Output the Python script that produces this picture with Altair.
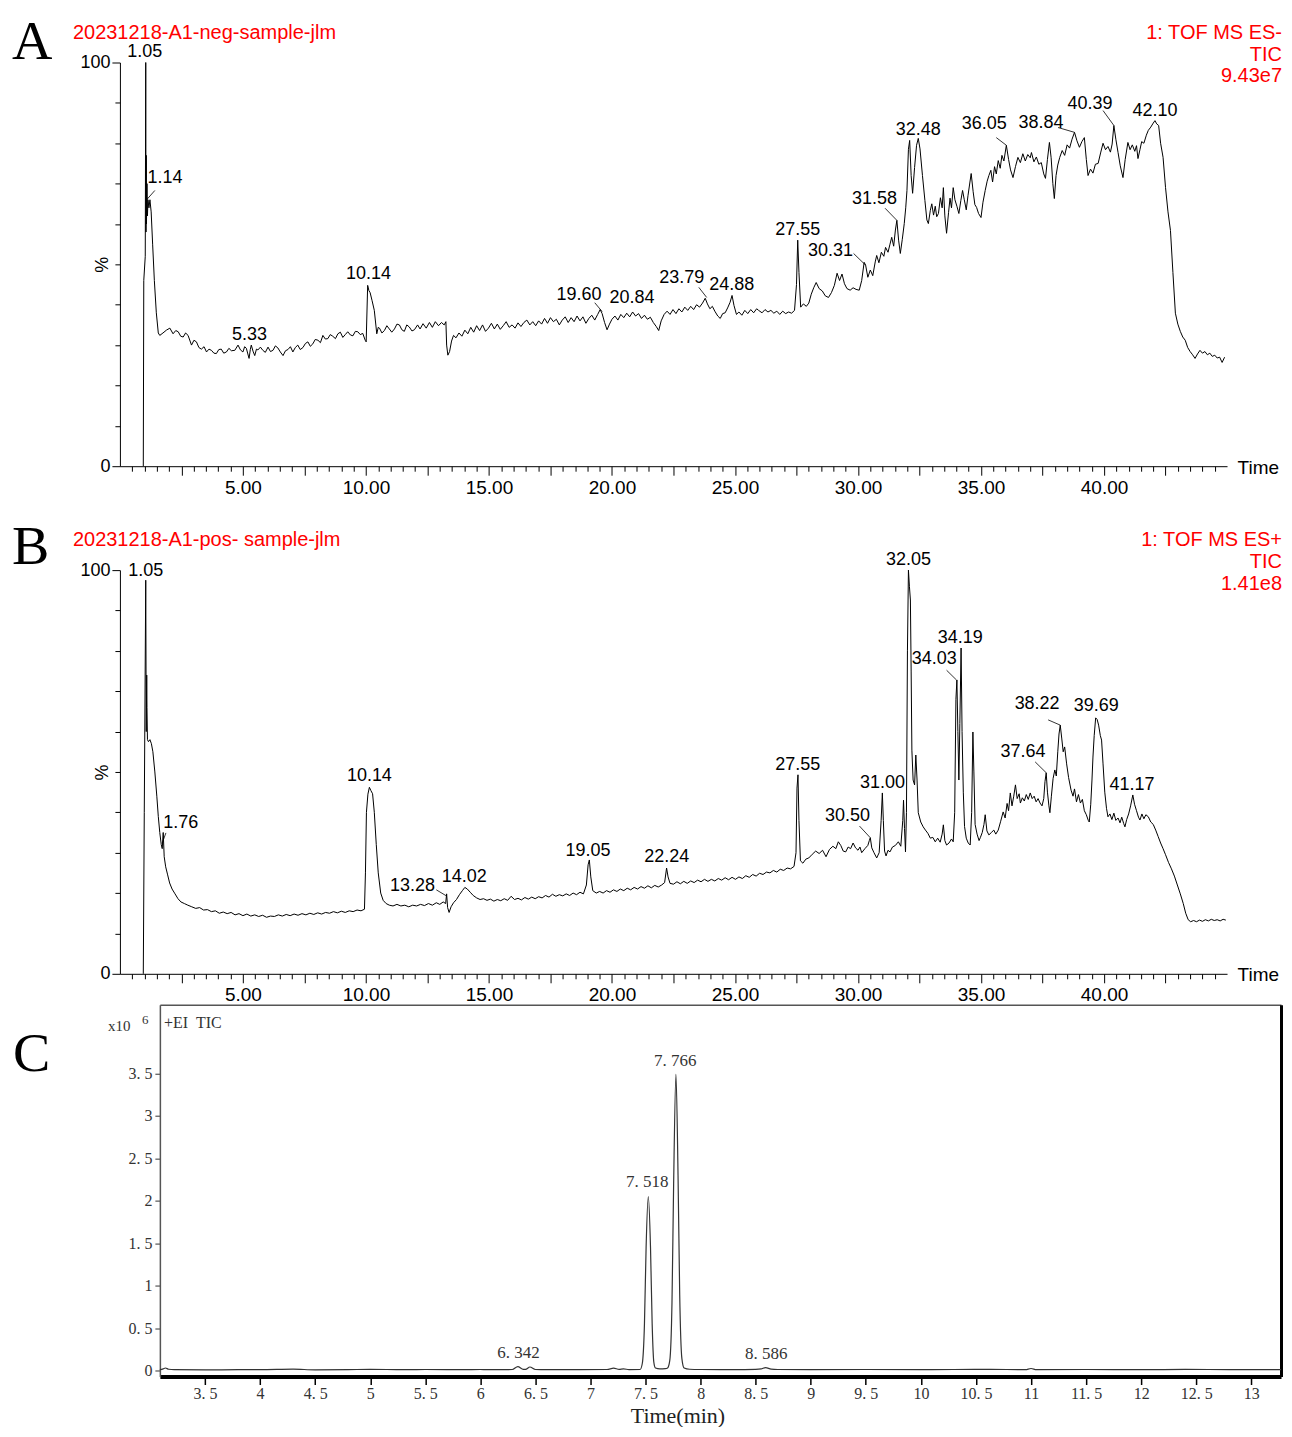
import altair as alt
import pandas as pd

SANS = "Liberation Sans"
SERIF = "Liberation Serif"

# ---------------- Panel A (negative mode TIC) ----------------
a_time = [
    0.95, 0.97, 1.03, 1.05, 1.06, 1.07, 1.08, 1.10, 1.12, 1.14,
    1.18, 1.22, 1.27, 1.33, 1.40, 1.48, 1.56, 1.62, 1.75, 1.89,
    2.03, 2.16, 2.27, 2.37, 2.47, 2.57, 2.67, 2.77, 2.91, 3.01,
    3.11, 3.21, 3.31, 3.42, 3.52, 3.62, 3.72, 3.82, 3.92, 4.02,
    4.12, 4.22, 4.33, 4.43, 4.53, 4.67, 4.80, 4.90, 5.00, 5.07,
    5.14, 5.20, 5.25, 5.30, 5.34, 5.41, 5.48, 5.55, 5.61, 5.71,
    5.81, 5.91, 6.02, 6.12, 6.22, 6.32, 6.42, 6.52, 6.63, 6.73,
    6.83, 6.93, 7.03, 7.13, 7.23, 7.33, 7.44, 7.54, 7.64, 7.74,
    7.84, 7.94, 8.05, 8.15, 8.25, 8.35, 8.45, 8.55, 8.65, 8.76,
    8.86, 8.96, 9.06, 9.16, 9.26, 9.37, 9.47, 9.57, 9.67, 9.77,
    9.87, 9.97, 10.01, 10.07, 10.12, 10.17, 10.25, 10.34, 10.44, 10.50,
    10.55, 10.65, 10.75, 10.85, 10.95, 11.05, 11.16, 11.26, 11.36, 11.46,
    11.56, 11.66, 11.76, 11.87, 11.97, 12.10, 12.20, 12.32, 12.45, 12.58,
    12.70, 12.82, 12.95, 13.07, 13.18, 13.25, 13.28, 13.33, 13.40, 13.48,
    13.56, 13.66, 13.78, 13.90, 14.02, 14.14, 14.26, 14.38, 14.50, 14.62,
    14.74, 14.86, 14.98, 15.10, 15.22, 15.34, 15.46, 15.58, 15.70, 15.82,
    15.94, 16.06, 16.18, 16.30, 16.42, 16.54, 16.66, 16.78, 16.90, 17.02,
    17.14, 17.26, 17.38, 17.50, 17.62, 17.74, 17.86, 17.98, 18.10, 18.22,
    18.34, 18.46, 18.58, 18.70, 18.82, 18.94, 19.06, 19.18, 19.30, 19.42,
    19.52, 19.60, 19.70, 19.80, 19.90, 20.00, 20.12, 20.24, 20.36, 20.48,
    20.60, 20.72, 20.84, 20.96, 21.08, 21.20, 21.32, 21.44, 21.56, 21.68,
    21.80, 21.90, 22.00, 22.12, 22.24, 22.36, 22.48, 22.60, 22.72, 22.84,
    22.96, 23.08, 23.20, 23.32, 23.44, 23.56, 23.68, 23.79, 23.88, 23.98,
    24.08, 24.18, 24.30, 24.40, 24.50, 24.60, 24.70, 24.80, 24.88, 24.96,
    25.06, 25.16, 25.28, 25.40, 25.52, 25.64, 25.76, 25.88, 25.96, 26.10,
    26.22, 26.34, 26.46, 26.58, 26.70, 26.82, 26.94, 27.06, 27.18, 27.30,
    27.42, 27.50, 27.55, 27.60, 27.67, 27.78, 27.90, 28.00, 28.10, 28.20,
    28.30, 28.42, 28.55, 28.67, 28.80, 28.92, 29.04, 29.15, 29.25, 29.35,
    29.45, 29.55, 29.68, 29.80, 29.92, 30.05, 30.15, 30.25, 30.31, 30.40,
    30.50, 30.60, 30.70, 30.76, 30.85, 30.95, 31.05, 31.12, 31.22, 31.30,
    31.37, 31.45, 31.52, 31.58, 31.65, 31.72, 31.80, 31.88, 31.94, 31.99,
    32.05, 32.10, 32.16, 32.22, 32.30, 32.38, 32.45, 32.52, 32.62, 32.72,
    32.80, 32.86, 32.94, 33.00, 33.07, 33.14, 33.20, 33.27, 33.35, 33.42,
    33.47, 33.53, 33.60, 33.68, 33.74, 33.80, 33.87, 33.94, 34.02, 34.10,
    34.18, 34.25, 34.32, 34.40, 34.47, 34.55, 34.60, 34.68, 34.75, 34.82,
    34.90, 35.00, 35.08, 35.17, 35.25, 35.32, 35.40, 35.47, 35.55, 35.62,
    35.70, 35.78, 35.85, 35.93, 36.03, 36.12, 36.20, 36.30, 36.40, 36.50,
    36.60, 36.70, 36.80, 36.90, 37.00, 37.05, 37.15, 37.25, 37.35, 37.45,
    37.55, 37.62, 37.70, 37.78, 37.85, 37.92, 37.98, 38.05, 38.12, 38.20,
    38.30, 38.40, 38.50, 38.60, 38.70, 38.80, 38.90, 39.00, 39.10, 39.20,
    39.28, 39.35, 39.45, 39.55, 39.65, 39.76, 39.86, 39.96, 40.06, 40.16,
    40.26, 40.33, 40.40, 40.48, 40.57, 40.66, 40.77, 40.86, 40.97, 41.06,
    41.15, 41.25, 41.32, 41.38, 41.46, 41.53, 41.62, 41.72, 41.80, 41.90,
    42.00, 42.07, 42.14, 42.22, 42.30, 42.40, 42.50, 42.60, 42.70, 42.80,
    42.90, 43.00, 43.10, 43.20, 43.30, 43.40, 43.50, 43.60, 43.70, 43.80,
    43.90, 44.00, 44.10, 44.20, 44.30, 44.40, 44.50, 44.60, 44.70, 44.80,
    44.90,
]
a_pct = [
    0, 46, 52, 100, 58, 77, 60, 70, 62, 66,
    64, 66, 63, 55, 46, 38, 33, 32.4, 33.0, 33.7,
    34.2, 32.8, 33.6, 33.3, 32.2, 32.0, 33.0, 32.4, 30.0, 31.2,
    30.8, 29.4, 29.0, 29.6, 28.3, 29.0, 28.7, 28.0, 27.9, 28.9,
    29.0, 28.0, 28.3, 29.2, 28.6, 28.7, 30.0, 28.8, 28.3, 29.6,
    29.2, 27.8, 26.7, 28.9, 30.0, 28.5, 27.4, 29.0, 28.8, 29.5,
    28.7, 28.2, 29.5, 28.4, 28.7, 29.8, 29.3, 28.3, 27.4, 28.6,
    28.9, 29.6, 28.3, 29.4, 30.0, 28.9, 29.4, 30.4, 30.8, 29.7,
    30.3, 31.4, 31.2, 30.6, 32.4, 31.5, 31.6, 32.6, 32.2, 31.6,
    32.8, 33.2, 31.9, 32.6, 33.3, 32.5, 32.3, 33.4, 33.3, 32.6,
    32.9, 31.2, 30.8, 44.8, 43.5, 43.0, 41.0, 38.6, 32.8, 34.4,
    34.2, 33.0, 33.6, 34.8, 34.0, 33.2, 34.0, 35.2, 35.0, 33.8,
    33.4, 35.0, 34.5, 33.5, 33.8, 35.0, 34.0, 35.3, 34.2, 35.6,
    34.4, 35.8, 34.8, 35.6, 35.0, 35.8, 30.0, 27.5, 28.4, 31.0,
    32.4, 31.8, 33.0, 32.2, 33.7, 32.8, 34.4, 33.2, 34.8, 33.6,
    35.0, 33.4, 34.2, 35.4, 34.0, 35.2, 33.9, 34.8, 35.8, 34.4,
    35.0, 34.2, 35.5, 34.6, 35.6, 36.2, 35.0, 35.8, 34.8, 36.0,
    35.2, 36.6, 35.4, 36.8, 35.8, 36.4, 35.0, 36.2, 37.0, 35.6,
    36.8, 35.8, 37.2, 36.0, 37.0, 35.4, 36.6, 37.4, 36.2, 37.6,
    38.8, 37.8, 35.6, 33.8, 35.2, 36.4, 37.2, 36.2, 37.6, 36.8,
    37.9, 37.0, 38.2, 37.2, 37.8, 36.6, 37.4, 36.4, 36.9, 35.6,
    34.6, 33.6, 36.0, 37.6, 38.4, 37.6, 38.8, 37.8, 39.0, 38.2,
    39.4, 38.6, 39.6, 38.8, 40.0, 39.4, 40.4, 41.6, 40.2, 39.0,
    39.6, 38.4, 37.2, 36.6, 37.8, 38.0, 39.2, 40.6, 42.3, 39.8,
    37.6, 38.2, 37.4, 38.6, 37.8, 38.8, 38.0, 39.0, 38.6, 38.0,
    38.8, 38.2, 38.6, 37.9, 38.4, 37.6, 38.4, 37.8, 38.2, 37.9,
    38.6, 45.0, 56.0, 48.0, 39.4, 40.2, 39.6, 40.4, 42.6, 44.2,
    45.5, 44.0, 43.4, 42.2, 41.8, 43.0, 44.8, 47.8, 46.0, 47.6,
    45.2, 44.0, 43.6, 44.2, 43.8, 43.6, 46.0, 50.5, 49.8, 46.8,
    48.6, 47.2, 50.6, 52.2, 50.4, 53.0, 52.0, 54.2, 53.0, 55.0,
    56.7, 54.5, 58.5, 60.9, 56.0, 52.7, 56.2, 60.1, 64.0, 68.3,
    78.5, 80.7, 72.0, 67.6, 74.0, 79.5, 81.2, 78.6, 72.0, 65.8,
    61.0, 60.1, 63.4, 65.0, 62.2, 64.4, 61.8, 62.6, 66.5, 64.0,
    69.0, 62.0, 57.7, 62.8, 66.4, 64.0, 69.0, 66.0, 64.4, 62.6,
    65.8, 68.3, 66.0, 63.5, 67.0, 70.4, 72.5, 68.0, 64.8, 64.1,
    62.6, 61.6, 65.4, 68.3, 70.6, 72.0, 73.3, 70.4, 74.2, 72.4,
    75.7, 73.8, 77.0, 75.6, 79.5, 76.0, 73.4, 71.5, 74.2, 76.5,
    75.2, 77.4, 75.6, 77.2, 76.4, 77.7, 75.4, 76.6, 74.8, 75.2,
    72.4, 71.3, 76.0, 80.2, 76.4, 70.0, 66.3, 72.0, 74.6, 76.5,
    78.2, 77.0, 79.6, 78.8, 81.0, 82.7, 80.6, 79.0, 80.4, 81.4,
    76.0, 72.0, 73.6, 72.6, 74.8, 75.0, 77.6, 80.0, 78.4, 79.2,
    77.8, 79.8, 84.4, 81.0, 77.7, 74.4, 71.5, 76.0, 80.2, 78.4,
    79.6, 78.0, 79.4, 76.2, 78.4, 80.4, 80.0, 82.0, 83.2, 84.0,
    85.0, 85.6, 84.8, 84.4, 80.0, 76.5, 69.0, 63.0, 58.4, 48.0,
    37.9, 35.2, 33.4, 32.0, 31.2, 29.4, 28.4, 27.6, 26.7, 27.8,
    28.7, 28.0, 28.4, 27.6, 28.0, 27.2, 27.5, 26.8, 27.0, 25.7,
    27.0,
]
a_lab_s = ["1.05", "1.14", "5.33", "10.14", "19.60", "20.84", "23.79", "24.88",
           "27.55", "30.31", "31.58", "32.48", "36.05", "38.84", "40.39", "42.10"]
a_lab_t = [1.01, 1.83, 5.27, 10.10, 18.66, 20.81, 22.84, 24.87,
           27.55, 28.88, 30.67, 32.45, 35.13, 37.44, 39.43, 42.07]
a_lab_v = [102.5, 71.3, 32.4, 47.5, 42.3, 41.6, 46.5, 45.0,
           58.4, 53.2, 66.3, 83.4, 84.7, 85.1, 89.6, 88.1]
a_ld_t1 = [1.42, 19.30, 23.53, 29.82, 31.10, 35.62, 38.13, 39.96]
a_ld_v1 = [68.3, 40.5, 44.3, 52.7, 63.9, 81.4, 83.9, 88.1]
a_ld_t2 = [1.10, 19.60, 23.85, 30.31, 31.58, 36.03, 38.80, 40.40]
a_ld_v2 = [66.1, 38.3, 41.8, 49.8, 60.9, 79.5, 82.7, 84.4]

# ---------------- Panel B (positive mode TIC) ----------------
b_time = [
    0.95, 0.99, 1.05, 1.07, 1.09, 1.10, 1.12, 1.16, 1.22, 1.28,
    1.34, 1.42, 1.50, 1.56, 1.62, 1.68, 1.72, 1.76, 1.80, 1.86,
    1.94, 2.02, 2.12, 2.24, 2.36, 2.48, 2.62, 2.76, 2.92, 3.08,
    3.24, 3.40, 3.56, 3.72, 3.88, 4.04, 4.20, 4.36, 4.52, 4.68,
    4.84, 5.00, 5.16, 5.32, 5.48, 5.64, 5.80, 5.96, 6.12, 6.28,
    6.44, 6.60, 6.76, 6.92, 7.08, 7.24, 7.40, 7.56, 7.72, 7.88,
    8.04, 8.20, 8.36, 8.52, 8.68, 8.84, 9.00, 9.16, 9.32, 9.48,
    9.64, 9.80, 9.94, 9.98, 10.02, 10.08, 10.14, 10.20, 10.27, 10.34,
    10.42, 10.50, 10.60, 10.70, 10.82, 10.95, 11.10, 11.26, 11.42, 11.58,
    11.74, 11.90, 12.06, 12.22, 12.38, 12.54, 12.70, 12.86, 13.00, 13.14,
    13.24, 13.28, 13.32, 13.38, 13.46, 13.56, 13.68, 13.80, 13.92, 14.02,
    14.12, 14.24, 14.36, 14.50, 14.64, 14.78, 14.92, 15.06, 15.20, 15.34,
    15.48, 15.62, 15.76, 15.90, 16.04, 16.18, 16.32, 16.46, 16.60, 16.74,
    16.88, 17.02, 17.16, 17.30, 17.44, 17.58, 17.72, 17.86, 18.00, 18.14,
    18.28, 18.42, 18.56, 18.70, 18.84, 18.96, 19.03, 19.08, 19.14, 19.22,
    19.36, 19.50, 19.64, 19.78, 19.92, 20.06, 20.20, 20.34, 20.48, 20.62,
    20.76, 20.90, 21.04, 21.18, 21.32, 21.46, 21.60, 21.74, 21.88, 22.02,
    22.14, 22.22, 22.28, 22.36, 22.50, 22.64, 22.78, 22.92, 23.06, 23.20,
    23.34, 23.48, 23.62, 23.76, 23.90, 24.04, 24.18, 24.32, 24.46, 24.60,
    24.74, 24.88, 25.02, 25.16, 25.30, 25.44, 25.58, 25.72, 25.86, 26.00,
    26.14, 26.28, 26.42, 26.56, 26.70, 26.84, 26.98, 27.12, 27.26, 27.40,
    27.48, 27.52, 27.56, 27.60, 27.66, 27.76, 27.88, 28.00, 28.14, 28.28,
    28.42, 28.56, 28.70, 28.84, 28.98, 29.10, 29.20, 29.30, 29.40, 29.50,
    29.60, 29.70, 29.80, 29.90, 30.00, 30.08, 30.15, 30.28, 30.40, 30.46,
    30.50, 30.56, 30.65, 30.76, 30.86, 30.94, 30.99, 31.03, 31.08, 31.14,
    31.22, 31.30, 31.40, 31.52, 31.64, 31.74, 31.82, 31.85, 31.89, 31.93,
    31.97, 32.01, 32.05, 32.09, 32.13, 32.16, 32.19, 32.24, 32.30, 32.35,
    32.40, 32.45, 32.55, 32.65, 32.74, 32.84, 32.94, 33.04, 33.14, 33.24,
    33.34, 33.42, 33.47, 33.53, 33.60, 33.70, 33.80, 33.87, 33.93, 33.98,
    34.02, 34.06, 34.10, 34.14, 34.19, 34.23, 34.28, 34.33, 34.40, 34.48,
    34.56, 34.62, 34.67, 34.71, 34.76, 34.84, 34.92, 34.97, 35.05, 35.12,
    35.17, 35.24, 35.32, 35.42, 35.52, 35.60, 35.70, 35.80, 35.90, 35.98,
    36.06, 36.12, 36.19, 36.26, 36.33, 36.40, 36.47, 36.55, 36.60, 36.68,
    36.76, 36.84, 36.92, 37.00, 37.08, 37.16, 37.24, 37.32, 37.40, 37.48,
    37.55, 37.60, 37.65, 37.70, 37.76, 37.80, 37.86, 37.93, 38.00, 38.06,
    38.12, 38.17, 38.22, 38.28, 38.34, 38.40, 38.48, 38.56, 38.66, 38.74,
    38.80, 38.88, 38.96, 39.04, 39.12, 39.20, 39.28, 39.36, 39.40, 39.46,
    39.51, 39.55, 39.60, 39.66, 39.72, 39.78, 39.85, 39.90, 39.96, 40.03,
    40.10, 40.16, 40.24, 40.32, 40.40, 40.48, 40.57, 40.65, 40.72, 40.80,
    40.85, 40.92, 41.00, 41.08, 41.17, 41.24, 41.32, 41.40, 41.46, 41.54,
    41.62, 41.70, 41.80, 41.90, 42.00, 42.10, 42.20, 42.30, 42.40, 42.50,
    42.62, 42.74, 42.86, 42.98, 43.10, 43.22, 43.32, 43.42, 43.52, 43.64,
    43.76, 43.88, 44.00, 44.12, 44.24, 44.36, 44.48, 44.60, 44.72, 44.84,
    44.95,
]
b_pct = [
    0, 40, 97.5, 60, 74, 66, 58, 57.5, 58, 57,
    55, 50, 44, 39, 35, 32, 31, 35.0, 29, 26.5,
    24.5, 22.5, 21.0, 19.8, 18.6, 17.8, 17.4, 17.0, 16.6, 16.2,
    16.4, 15.8, 15.9, 15.4, 15.6, 15.0, 15.3, 14.9, 15.2, 14.6,
    14.9, 14.4, 14.8, 14.3, 14.6, 14.2, 14.5, 14.0, 14.3, 14.2,
    14.6, 14.3, 14.7, 14.4, 14.8, 14.5, 14.9, 14.6, 15.0, 14.7,
    15.1, 14.8, 15.2, 15.0, 15.4, 15.1, 15.5, 15.2, 15.6, 15.4,
    15.8, 15.6, 16.0, 25.0, 40.0, 44.5, 46.2, 45.4, 44.6, 40.0,
    32.0, 25.0, 20.0, 18.2, 17.4, 17.0, 16.8, 17.2, 16.8, 17.0,
    16.6, 17.0, 16.8, 17.2, 16.9, 17.4, 17.0, 17.6, 17.2, 17.8,
    17.4, 19.8, 16.4, 15.2, 16.6, 17.6, 18.4, 19.6, 20.6, 21.4,
    21.0, 20.2, 19.4, 18.8, 18.4, 18.6, 18.2, 18.5, 18.0, 18.4,
    18.1, 18.6, 18.2, 19.2, 18.4, 18.7, 18.3, 18.9, 18.5, 19.0,
    18.6, 19.1, 18.8, 19.4, 19.0, 19.7, 19.2, 19.6, 19.3, 19.8,
    19.4, 20.0, 19.6, 20.2, 19.8, 22.0, 27.0, 28.2, 24.0, 20.6,
    20.0, 20.4, 20.0, 20.6, 20.2, 20.8, 20.4, 21.0, 20.6, 21.2,
    20.8, 21.4, 21.0, 21.6, 21.2, 21.8, 21.3, 21.9, 21.5, 22.0,
    22.6, 26.2, 24.0, 22.4, 22.2, 22.8, 22.3, 22.9, 22.4, 23.0,
    22.6, 23.2, 22.8, 23.4, 22.9, 23.4, 23.0, 23.6, 23.2, 23.8,
    23.3, 23.9, 23.4, 24.0, 23.6, 24.3, 23.9, 24.6, 24.2, 24.9,
    24.6, 25.2, 25.0, 25.6, 25.2, 25.9, 25.6, 26.2, 26.0, 26.6,
    30.0, 46.0, 49.3, 38.0, 28.0, 27.4, 28.4, 28.7, 29.6, 30.4,
    29.8, 30.6, 29.0, 30.8, 31.6, 31.0, 32.7, 31.8, 30.4, 30.2,
    31.4, 31.0, 32.4, 31.2, 30.6, 31.4, 30.0, 31.0, 31.8, 33.0,
    33.7, 31.2, 30.0, 28.7, 30.0, 38.0, 44.8, 38.0, 30.4, 29.2,
    30.6, 30.2, 31.4, 31.8, 32.7, 31.6, 38.0, 43.0, 36.0, 30.2,
    40.0, 80.0, 100.0, 96.0, 92.6, 75.0, 55.4, 48.0, 46.8, 54.2,
    48.0, 39.9, 37.6, 36.4, 35.6, 34.8, 33.6, 33.8, 32.7, 33.6,
    32.6, 34.6, 36.9, 33.0, 31.9, 32.4, 33.4, 32.7, 40.0, 68.0,
    72.8, 60.0, 48.0, 62.0, 80.7, 60.0, 45.0, 36.5, 33.6, 32.4,
    31.9, 40.0, 59.9, 50.0, 37.0, 34.6, 33.0, 33.7, 35.0, 37.0,
    39.4, 35.4, 34.4, 35.0, 35.6, 34.6, 35.6, 37.8, 40.1, 38.6,
    42.2, 40.4, 44.8, 41.6, 44.0, 46.8, 43.4, 44.6, 42.3, 43.6,
    42.8, 44.4, 43.2, 44.8, 43.4, 44.0, 42.6, 43.4, 42.3, 41.6,
    43.4, 47.6, 49.8, 45.0, 41.6, 39.9, 44.0, 48.4, 50.5, 49.0,
    55.0, 59.4, 61.6, 58.4, 55.0, 56.2, 52.0, 48.6, 45.5, 44.0,
    45.8, 42.6, 44.4, 42.3, 43.2, 40.4, 39.4, 38.0, 37.6, 42.0,
    48.0, 53.7, 59.0, 63.4, 63.0, 61.6, 59.0, 57.9, 52.0, 45.0,
    41.0, 38.9, 39.6, 38.2, 39.8, 38.0, 38.6, 37.4, 38.8, 37.2,
    36.4, 38.2, 39.6, 41.6, 44.3, 42.0, 40.4, 38.8, 38.1, 39.6,
    38.4, 39.4, 38.9, 37.6, 37.0, 35.6, 34.0, 32.4, 31.0, 29.5,
    27.6, 26.0, 24.2, 22.0, 19.8, 17.4, 15.0, 13.4, 12.9, 13.2,
    12.9, 13.3, 13.0, 13.4, 13.1, 13.5, 13.2, 13.4, 13.1, 13.5,
    13.3,
]
b_lab_s = ["1.05", "1.76", "10.14", "13.28", "14.02", "19.05", "22.24", "27.55", "30.50",
           "31.00", "32.05", "34.19", "34.03", "37.64", "38.22", "39.69", "41.17"]
b_lab_t = [1.05, 2.47, 10.14, 11.89, 14.00, 19.03, 22.23, 27.55, 29.57,
           31.00, 32.05, 34.16, 33.10, 36.71, 37.28, 39.68, 41.14]
b_lab_v = [99.8, 37.4, 49.0, 21.8, 24.0, 30.4, 29.0, 51.7, 39.1,
           47.3, 102.5, 83.2, 78.0, 55.0, 66.8, 66.3, 46.8]
b_ld_t1 = [1.87, 12.86, 30.06, 33.60, 37.20, 37.73]
b_ld_v1 = [34.9, 20.8, 36.6, 75.2, 52.5, 62.9]
b_ld_t2 = [1.72, 13.27, 30.50, 34.00, 37.65, 38.22]
b_ld_v2 = [32.4, 19.3, 33.7, 72.8, 49.8, 61.6]

# ---------------- Panel C (GC-MS +EI TIC, x10^6) ----------------
c_time = [
    3.09, 3.12, 3.14, 3.17, 3.22, 3.50, 3.80, 4.00, 4.30, 4.50,
    4.80, 5.00, 5.30, 5.50, 5.80, 6.00, 6.20, 6.29, 6.34, 6.39,
    6.41, 6.45, 6.50, 6.60, 6.90, 7.15, 7.21, 7.26, 7.30, 7.35,
    7.45, 7.47, 7.49, 7.505, 7.525, 7.545, 7.56, 7.575, 7.59, 7.63,
    7.68, 7.70, 7.72, 7.74, 7.755, 7.776, 7.795, 7.81, 7.83, 7.85,
    7.90, 8.00, 8.30, 8.50, 8.55, 8.59, 8.64, 8.70, 9.00, 9.50,
    10.00, 10.30, 10.60, 10.95, 11.00, 11.05, 11.50, 12.00, 12.40, 12.80,
    13.27,
]
c_val = [
    0.01, 0.02, 0.03, 0.015, 0.01, 0.008, 0.01, 0.01, 0.016, 0.009,
    0.011, 0.014, 0.01, 0.012, 0.01, 0.012, 0.01, 0.012, 0.046, 0.014,
    0.014, 0.042, 0.012, 0.01, 0.011, 0.012, 0.028, 0.014, 0.02, 0.011,
    0.012, 0.08, 0.55, 1.45, 2.05, 1.45, 0.55, 0.1, 0.03, 0.02,
    0.022, 0.03, 0.12, 0.8, 2.2, 3.49, 2.3, 0.9, 0.14, 0.03,
    0.015, 0.012, 0.01, 0.014, 0.02, 0.035, 0.016, 0.012, 0.01, 0.012,
    0.01, 0.012, 0.014, 0.011, 0.024, 0.011, 0.012, 0.01, 0.013, 0.011,
    0.01,
]
c_lab_s = ["6. 342", "7. 518", "7. 766", "8. 586"]
c_lab_t = [6.347, 7.516, 7.770, 8.595]
c_lab_v = [0.21, 2.22, 3.65, 0.20]
c_xticks = [3.5, 4, 4.5, 5, 5.5, 6, 6.5, 7, 7.5, 8, 8.5, 9, 9.5, 10,
            10.5, 11, 11.5, 12, 12.5, 13]
c_yticks = [0, 0.5, 1, 1.5, 2, 2.5, 3, 3.5]

W_AB, H_AB = 1108, 404
C_LEFT, C_PLOT_W = 40, 1122      # panel C frame starts 40px right of the A/B axis
W_C, H_C = C_LEFT + C_PLOT_W, 372
ONE = pd.DataFrame({"k": [0]})
NBSP = "\u00a0"
LETTER_SIZE = 56


def txt(text, x, y, size, font=SANS, color="black", align="left", baseline="alphabetic"):
    return alt.Chart(ONE).mark_text(
        text=text, font=font, fontSize=size, color=color, align=align, baseline=baseline,
    ).encode(x=alt.value(x), y=alt.value(y))


def spacer(y):
    # invisible point that fixes how much room is kept above a panel
    return alt.Chart(ONE).mark_point(opacity=0, size=1).encode(
        x=alt.value(0), y=alt.value(y))


def lc_panel(time, pct, lab_s, lab_t, lab_v, t1, v1, t2, v2,
             letter, letter_y, title, right_lines, top_extent):
    xs = alt.Scale(domain=[0, 45], nice=False, zero=False)
    ys = alt.Scale(domain=[0, 100], nice=False, zero=False)
    x_axis = alt.Axis(
        values=[k * 0.5 for k in range(1, 90)], tickCount=200,
        tickSize={"condition": {"test": "datum.value % 2.5 === 0", "value": 9}, "value": 5},
        tickColor="black", tickWidth=1, domainColor="black", domainWidth=1,
        labelExpr="datum.value % 5 === 0 ? format(datum.value, '.2f') : ''",
        labelFont=SANS, labelFontSize=19, labelColor="black", labelPadding=3,
        labelOverlap=False, labelFlush=False, labelBound=False,
        title="Time", titleFont=SANS, titleFontSize=19, titleFontWeight="normal",
        titleColor="black", titleAngle=0, titleAlign="left", titleBaseline="middle",
        titleX=1118, titleY=1,
    )
    y_axis = alt.Axis(
        values=list(range(0, 101, 10)), tickCount=200,
        tickSize={"condition": {"test": "datum.value === 0 || datum.value === 100", "value": 8}, "value": 5},
        tickColor="black", tickWidth=1, domainColor="black", domainWidth=1,
        labelExpr="(datum.value === 0 || datum.value === 100) ? toString(datum.value) : ''",
        labelFont=SANS, labelFontSize=18, labelColor="black", labelPadding=2,
        labelOverlap=False, labelFlush=False,
        title="%", titleFont=SANS, titleFontSize=18, titleFontWeight="normal",
        titleColor="black", titleAngle=270, titleAlign="center", titleBaseline="middle",
        titleX=-17, titleY=202,
    )
    df = pd.DataFrame({"t": time, "v": pct})
    labs = pd.DataFrame({"t": lab_t, "v": lab_v, "s": lab_s})
    leads = pd.DataFrame({"t": t1, "v": v1, "t2": t2, "v2": v2})

    line = alt.Chart(df).mark_line(color="black", strokeWidth=1).encode(
        x=alt.X("t:Q", scale=xs, axis=x_axis),
        y=alt.Y("v:Q", scale=ys, axis=y_axis),
    )
    lead = alt.Chart(leads).mark_rule(color="black", strokeWidth=0.8).encode(
        x=alt.X("t:Q", scale=xs), y=alt.Y("v:Q", scale=ys),
        x2="t2:Q", y2="v2:Q",
    )
    lab = alt.Chart(labs).mark_text(font=SANS, fontSize=18, color="black").encode(
        x=alt.X("t:Q", scale=xs), y=alt.Y("v:Q", scale=ys),
        text="s:N",
    )
    layers = [
        line, lead, lab,
        txt(letter, -108, letter_y, LETTER_SIZE, font=SERIF),
        txt(title, -47, -24, 20, color="#ff0000"),
        txt(right_lines[0], 1163, -24, 20, color="#ff0000", align="right"),
        txt(right_lines[1], 1163, -2, 20, color="#ff0000", align="right"),
        txt(right_lines[2], 1163, 20, 20, color="#ff0000", align="right"),
        spacer(-top_extent),
    ]
    return alt.layer(*layers).properties(width=W_AB, height=H_AB)


panel_a = lc_panel(a_time, a_pct, a_lab_s, a_lab_t, a_lab_v,
                   a_ld_t1, a_ld_v1, a_ld_t2, a_ld_v2,
                   "A", -4, "20231218-A1-neg-sample-jlm",
                   ["1: TOF MS ES-", "TIC", "9.43e7"], 53.5)
panel_b = lc_panel(b_time, b_pct, b_lab_s, b_lab_t, b_lab_v,
                   b_ld_t1, b_ld_v1, b_ld_t2, b_ld_v2,
                   "B", -6, "20231218-A1-pos- sample-jlm",
                   ["1: TOF MS ES+", "TIC", "1.41e8"], 72.5)

# Panel C
xs_c = alt.Scale(domain=[3.09, 13.27], range=[C_LEFT, W_C], nice=False, zero=False)
ys_c = alt.Scale(domain=[-0.07, 4.31], nice=False, zero=False)
x_axis_c = alt.Axis(
    values=c_xticks, tickCount=100, labelExpr="replace(toString(datum.value), '.', '. ')",
    tickSize=8, tickWidth=1.5, tickColor="black", domainColor="black", domainWidth=4,
    labelFont=SERIF, labelFontSize=16, labelColor="#333333", labelPadding=1,
    labelFlush=False, labelOverlap=False,
    title="Time(min)", titleFont=SERIF, titleFontSize=22, titleFontWeight="normal",
    titleColor="#222222", titleX=558, titleY=46, titleAlign="center", titleBaseline="alphabetic",
)
y_axis_c = alt.Axis(
    values=c_yticks, tickCount=100, labelExpr="replace(toString(datum.value), '.', '. ')",
    offset=-C_LEFT,
    tickSize=5, tickWidth=1, tickColor="#333333", domainColor="#555555", domainWidth=1.5,
    labelFont=SERIF, labelFontSize=16, labelColor="#333333", labelPadding=3,
    labelFlush=False, labelOverlap=False, title=None,
)
dfc = pd.DataFrame({"t": c_time, "v": c_val})
labc = pd.DataFrame({"t": c_lab_t, "v": c_lab_v, "s": c_lab_s})

c_line = alt.Chart(dfc).mark_line(color="#333333", strokeWidth=1.2, interpolate="monotone").encode(
    x=alt.X("t:Q", scale=xs_c, axis=x_axis_c),
    y=alt.Y("v:Q", scale=ys_c, axis=y_axis_c),
)
c_frame = alt.Chart(dfc).mark_line(opacity=0).encode(
    x=alt.X("t:Q", scale=xs_c, axis=alt.Axis(orient="top", ticks=False, labels=False,
                                               domainColor="#555555", domainWidth=1.5, title=None)),
    y=alt.Y("v:Q", scale=ys_c, axis=alt.Axis(orient="right", ticks=False, labels=False,
                                               domainColor="black", domainWidth=3, title=None)),
)
c_lab = alt.Chart(labc).mark_text(font=SERIF, fontSize=17, color="#333333").encode(
    x=alt.X("t:Q", scale=xs_c, axis=None), y=alt.Y("v:Q", scale=ys_c, axis=None), text="s:N",
)

panel_c = alt.layer(
    c_line, c_frame, c_lab,
    txt("C", -107, 66, LETTER_SIZE, font=SERIF),
    txt("+EI" + NBSP + NBSP + "TIC", C_LEFT + 4, 23, 16, font=SERIF, color="#333333"),
    txt("x10", -12, 26, 15, font=SERIF, color="#333333"),
    txt("6", 22, 19, 13, font=SERIF, color="#333333"),
).resolve_axis(x="independent", y="independent").properties(width=W_C, height=H_C)

chart = alt.vconcat(panel_a, panel_b, panel_c, spacing=0).properties(
    padding={"left": 4, "top": 0, "right": 0, "bottom": 0}
).configure_view(strokeWidth=0).configure_axis(grid=False)

chart.save("out.html", embed_options={"renderer": "svg", "actions": False})
